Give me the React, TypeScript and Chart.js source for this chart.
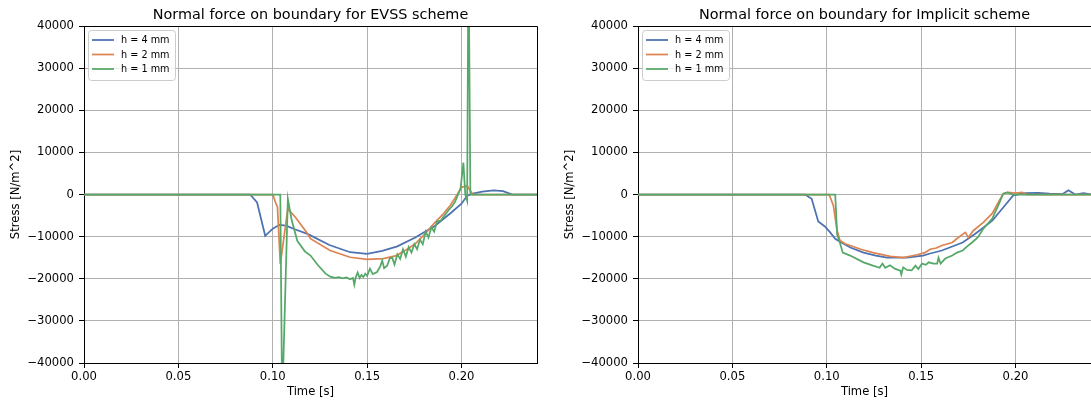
import React, { useEffect, useRef } from 'react';
import { Chart, registerables } from 'chart.js';

Chart.register(...registerables);

// ---------- data ----------
const seriesLabels = ['h = 4 mm', 'h = 2 mm', 'h = 1 mm'];
const seriesColors = ['#4C72B0', '#DD8452', '#55A868'];
const chartTitles = [
  'Normal force on boundary for EVSS scheme',
  'Normal force on boundary for Implicit scheme',
];
const xTickValues = [0, 0.05, 0.1, 0.15, 0.2];
const yTickValues = [-40000, -30000, -20000, -10000, 0, 10000, 20000, 30000, 40000];

// EVSS scheme
const evssH4T = [0, 0.088, 0.0917, 0.096, 0.1, 0.1035, 0.107, 0.112, 0.118, 0.12, 0.13, 0.141, 0.15, 0.158, 0.166, 0.1755, 0.186, 0.194, 0.2, 0.203, 0.206, 0.211, 0.217, 0.222, 0.227, 0.24];
const evssH4V = [0, 0, -1900, -9800, -8100, -7200, -7400, -8300, -9300, -9700, -12000, -13700, -14100, -13400, -12300, -10200, -7400, -4500, -2200, -300, 200, 700, 1000, 800, 0, 0];

const evssH2T = [0, 0.1, 0.1015, 0.1025, 0.104, 0.108, 0.112, 0.118, 0.12, 0.1304, 0.141, 0.15, 0.1585, 0.1655, 0.1705, 0.1755, 0.181, 0.186, 0.19, 0.194, 0.198, 0.2, 0.203, 0.206, 0.24];
const evssH2V = [0, 0, -1900, -3000, -16500, -3400, -5400, -9000, -10500, -13300, -14900, -15400, -15200, -14500, -13200, -11700, -9200, -6600, -4800, -2600, 200, 1700, 2100, 0, 0];

const evssH1T = [0, 0.104, 0.105, 0.108, 0.11, 0.113, 0.117, 0.12, 0.124, 0.128, 0.1305, 0.133, 0.135, 0.137, 0.139, 0.141, 0.1425, 0.1432, 0.144, 0.145, 0.146, 0.147, 0.148, 0.149, 0.15, 0.1515, 0.153, 0.1553, 0.157, 0.158, 0.159, 0.1606, 0.162, 0.1633, 0.1645, 0.166, 0.1675, 0.169, 0.1705, 0.172, 0.1735, 0.175, 0.1765, 0.178, 0.1795, 0.181, 0.1825, 0.184, 0.1855, 0.187, 0.189, 0.191, 0.193, 0.195, 0.1965, 0.198, 0.1995, 0.201, 0.202, 0.203, 0.2037, 0.2047, 0.24];
const evssH1V = [0, 0, -50000, -1000, -6000, -11000, -13500, -14500, -16800, -18800, -19500, -19800, -19600, -19900, -19700, -20100, -19800, -21400, -19600, -18500, -19800, -19100, -19600, -18800, -19300, -17600, -18900, -18400, -17000, -15700, -17500, -16900, -15200, -15000, -16600, -14200, -15300, -13000, -14800, -12500, -13800, -11800, -13000, -10700, -11800, -8800, -10200, -7800, -8800, -6400, -6200, -5000, -3800, -2800, -1800, -200, 1400, 7600, 0, -1500, 60000, 0, 0];

// Implicit scheme
const implH4T = [0, 0.0885, 0.092, 0.0955, 0.099, 0.1018, 0.1045, 0.107, 0.1125, 0.1195, 0.126, 0.132, 0.1425, 0.151, 0.1548, 0.161, 0.172, 0.1787, 0.1877, 0.1935, 0.1988, 0.205, 0.212, 0.218, 0.225, 0.228, 0.2317, 0.236, 0.24];
const implH4V = [0, 0, -1000, -6400, -7600, -9000, -10500, -11200, -12600, -13800, -14500, -15000, -15000, -14500, -14000, -13300, -11400, -9300, -6200, -3100, -200, 300, 400, 200, 100, 1000, 0, 300, 0];

const implH2T = [0, 0.1013, 0.1035, 0.1055, 0.107, 0.1097, 0.1124, 0.118, 0.1245, 0.1336, 0.1405, 0.148, 0.152, 0.1548, 0.158, 0.161, 0.1665, 0.1697, 0.1734, 0.175, 0.1776, 0.183, 0.1877, 0.1909, 0.1935, 0.196, 0.2, 0.2036, 0.206, 0.24];
const implH2V = [0, 0, -2600, -8600, -10900, -11700, -12100, -13000, -13800, -14700, -15000, -14300, -13800, -13000, -12700, -12100, -11400, -10200, -9000, -10200, -8600, -6600, -4500, -1900, 200, 500, 300, 500, 0, 0];

const implH1T = [0, 0.1045, 0.1055, 0.107, 0.1085, 0.1124, 0.1195, 0.1245, 0.128, 0.1295, 0.131, 0.1335, 0.136, 0.139, 0.1395, 0.1405, 0.1425, 0.145, 0.147, 0.1485, 0.1505, 0.1525, 0.154, 0.1565, 0.1585, 0.1592, 0.1603, 0.1628, 0.1665, 0.169, 0.172, 0.175, 0.177, 0.18, 0.183, 0.1877, 0.1909, 0.1935, 0.1956, 0.1988, 0.24];
const implH1V = [0, 0, -9500, -11500, -13800, -14500, -16100, -16900, -17400, -16400, -17400, -16800, -17600, -18100, -19000, -17300, -17900, -18000, -16900, -17700, -16400, -16700, -16100, -16400, -16400, -15000, -16400, -15200, -14500, -13800, -13300, -12100, -11400, -10200, -8100, -5700, -2600, 200, 500, 0, 0];

const panels = [
  { title: chartTitles[0], ts: [evssH4T, evssH2T, evssH1T], vs: [evssH4V, evssH2V, evssH1V] },
  { title: chartTitles[1], ts: [implH4T, implH2T, implH1T], vs: [implH4V, implH2V, implH1V] },
];

// ---------- chart ----------
const FONT = "'DejaVu Sans', sans-serif";
const CANVAS_W = 560;
const CANVAS_H = 403;

const framePlugin = {
  id: 'frame',
  afterDraw(chart: any, _args: any, opts: any) {
    const { ctx, chartArea } = chart;
    const l = Math.round(chartArea.left);
    const r = Math.round(chartArea.right) + 0.5;
    const t = Math.round(chartArea.top) + 0.5;
    const b = Math.round(chartArea.bottom);
    ctx.save();
    ctx.strokeStyle = '#000';
    ctx.lineWidth = 1;
    ctx.beginPath();
    ctx.moveTo(l, t);
    ctx.lineTo(r, t);
    ctx.lineTo(r, b);
    ctx.stroke();
    // title centred over the plot area
    ctx.fillStyle = '#000';
    ctx.font = `14.4px ${FONT}`;
    ctx.textAlign = 'center';
    ctx.textBaseline = 'alphabetic';
    ctx.fillText(opts.text, (chartArea.left + chartArea.right) / 2, 18.5);
    ctx.restore();
  },
};

const legendPlugin = {
  id: 'innerLegend',
  afterDatasetsDraw(chart: any) {
    const { ctx, chartArea } = chart;
    const x0 = chartArea.left + 4.5;
    const y0 = chartArea.top + 4.5;
    const w = 87;
    const h = 50;
    ctx.save();
    ctx.beginPath();
    if (ctx.roundRect) ctx.roundRect(x0, y0, w, h, 3);
    else ctx.rect(x0, y0, w, h);
    ctx.fillStyle = 'rgba(255,255,255,0.8)';
    ctx.fill();
    ctx.strokeStyle = '#cccccc';
    ctx.lineWidth = 1;
    ctx.stroke();
    ctx.font = `9.7px ${FONT}`;
    ctx.textBaseline = 'middle';
    ctx.textAlign = 'left';
    seriesLabels.forEach((lab, i) => {
      const y = chartArea.top + 14 + i * 14.5;
      ctx.strokeStyle = seriesColors[i];
      ctx.lineWidth = 1.75;
      ctx.beginPath();
      ctx.moveTo(chartArea.left + 8, y);
      ctx.lineTo(chartArea.left + 30, y);
      ctx.stroke();
      ctx.fillStyle = '#000';
      ctx.fillText(lab, chartArea.left + 37, y + 0.5);
    });
    ctx.restore();
  },
};

function fmtY(v: number) {
  return v < 0 ? '\u2212' + Math.abs(v) : String(v);
}

function Panel({ idx, left }: { idx: number; left: number }) {
  const ref = useRef<HTMLCanvasElement | null>(null);
  useEffect(() => {
    const p = panels[idx];
    const chart = new Chart(ref.current as HTMLCanvasElement, {
      type: 'line',
      data: {
        datasets: p.ts.map((ts, i) => ({
          label: seriesLabels[i],
          data: ts.map((t, j) => ({ x: t, y: p.vs[i][j] })),
          borderColor: seriesColors[i],
          backgroundColor: seriesColors[i],
          borderWidth: 1.75,
          pointRadius: 0,
          tension: 0,
          fill: false,
          order: 2 - i,
        })),
      },
      options: {
        animation: false,
        responsive: false,
        maintainAspectRatio: false,
        devicePixelRatio: 1,
        events: [],
        layout: { padding: { left: 0, right: CANVAS_W - 537, top: 26, bottom: 0 } },
        plugins: {
          legend: { display: false },
          tooltip: { enabled: false },
          title: { display: false },
          frame: { text: p.title },
        },
        scales: {
          x: {
            type: 'linear',
            min: 0,
            max: 0.24,
            afterFit: (s: any) => { s.height = 40; },
            afterBuildTicks: (s: any) => { s.ticks = xTickValues.map((v) => ({ value: v })); },
            ticks: {
              callback: (v: any) => Number(v).toFixed(2),
              color: '#000',
              font: { family: FONT, size: 11.6 },
              padding: 2,
              maxRotation: 0,
              autoSkip: false,
            },
            grid: { color: '#b0b0b0', lineWidth: 1, tickColor: '#000', tickLength: 5, tickWidth: 1 },
            border: { color: '#000', width: 1 },
            title: {
              display: true,
              text: 'Time [s]',
              color: '#000',
              font: { family: FONT, size: 11.6 },
              padding: { top: 0, bottom: 4 },
            },
          },
          y: {
            type: 'linear',
            min: -40000,
            max: 40000,
            afterFit: (s: any) => { s.width = 84; },
            afterBuildTicks: (s: any) => { s.ticks = yTickValues.map((v) => ({ value: v })); },
            ticks: {
              callback: (v: any) => fmtY(Number(v)),
              color: '#000',
              font: { family: FONT, size: 11.6 },
              padding: 5,
              autoSkip: false,
            },
            grid: { color: '#b0b0b0', lineWidth: 1, tickColor: '#000', tickLength: 5, tickWidth: 1 },
            border: { color: '#000', width: 1 },
            title: {
              display: true,
              text: 'Stress [N/m^2]',
              color: '#000',
              font: { family: FONT, size: 11.6 },
              padding: { top: 9, bottom: 0 },
            },
          },
        },
      } as any,
      plugins: [framePlugin, legendPlugin],
    });
    return () => chart.destroy();
  }, [idx]);
  return (
    <canvas
      ref={ref}
      width={CANVAS_W}
      height={CANVAS_H}
      style={{ position: 'absolute', left, top: 0, width: CANVAS_W, height: CANVAS_H }}
    />
  );
}

export default function App() {
  return (
    <div
      style={{
        position: 'fixed',
        left: 0,
        top: 0,
        width: 1091,
        height: 403,
        overflow: 'hidden',
        background: '#fff',
      }}
    >
      <Panel idx={0} left={0} />
      <Panel idx={1} left={554} />
    </div>
  );
}
